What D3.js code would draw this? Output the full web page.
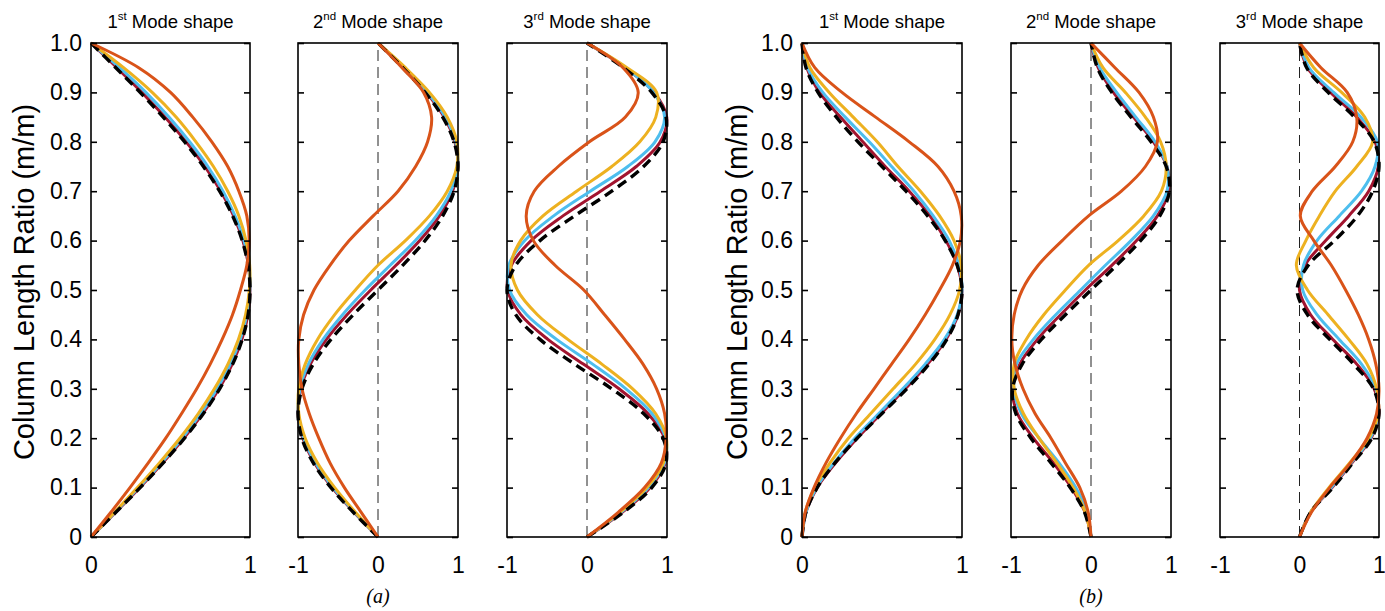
<!DOCTYPE html>
<html><head><meta charset="utf-8">
<script src="https://cdn.jsdelivr.net/npm/d3@7"></script>
<style>body{margin:0;background:#fff}svg{display:block}</style>
</head><body>
<svg id="c" width="1385" height="611"></svg>
<script>
// ---------- DATA ----------
const vLevels = [0,0.05,0.1,0.15,0.2,0.25,0.3,0.35,0.4,0.45,0.5,0.55,0.6,0.65,0.7,0.75,0.8,0.85,0.9,0.95,1];
const yTicks = [0,0.1,0.2,0.3,0.4,0.5,0.6,0.7,0.8,0.9,1];
const yTickLabels = ["0","0.1","0.2","0.3","0.4","0.5","0.6","0.7","0.8","0.9","1.0"];
const xTicks1 = [0,1];
const xTickLabels1 = ["0","1"];
const xTicks2 = [-1,0,1];
const xTickLabels2 = ["-1","0","1"];
const titleOrd = ["st","nd","rd"];
const captions = ["(a)","(b)"];
const yLabel = "Column Length Ratio (m/m)";

// (a) 1st mode
const a1_black  = [0,.156,.309,.454,.588,.707,.809,.891,.951,.988,1,.988,.951,.891,.809,.707,.588,.454,.309,.156,0];
const a1_maroon = [0,.155,.306,.45,.584,.703,.805,.888,.949,.987,1,.99,.955,.897,.816,.716,.598,.465,.32,.163,0];
const a1_blue   = [0,.152,.300,.442,.573,.691,.793,.876,.939,.98,.999,.994,.962,.906,.83,.735,.62,.49,.345,.18,0];
const a1_yellow = [0,.148,.292,.43,.559,.675,.776,.861,.927,.972,.996,.998,.975,.93,.86,.77,.66,.535,.385,.205,0];
const a1_orange = [0,.125,.245,.36,.47,.57,.665,.75,.825,.89,.94,.98,.995,.98,.93,.86,.76,.64,.5,.3,0];
// (a) 2nd mode
const a2_black  = [0,-.309,-.588,-.809,-.951,-1,-.951,-.809,-.588,-.309,0,.309,.588,.809,.951,1,.951,.809,.588,.309,0];
const a2_maroon = [0,-.30,-.573,-.793,-.939,-.999,-.966,-.845,-.645,-.387,-.09,.225,.522,.768,.932,.999,.962,.826,.603,.318,0];
const a2_blue   = [0,-.293,-.561,-.78,-.929,-.997,-.976,-.87,-.686,-.443,-.16,.152,.467,.729,.911,.996,.971,.84,.617,.326,0];
const a2_yellow = [0,-.282,-.541,-.756,-.91,-.99,-.99,-.91,-.756,-.541,-.282,0,.342,.643,.866,.985,.985,.866,.643,.342,0];
const a2_orange = [0,-.21,-.42,-.6,-.74,-.86,-.95,-.99,-.99,-.93,-.8,-.6,-.36,-.06,.25,.47,.62,.67,.57,.3,0];
// (a) 3rd mode
const a3_black  = [0,.454,.809,.988,.951,.707,.309,-.156,-.588,-.891,-1,-.891,-.588,-.156,.309,.707,.951,.988,.809,.454,0];
const a3_maroon = [0,.44,.79,.979,.969,.761,.40,-.046,-.489,-.828,-.992,-.945,-.698,-.301,.168,.616,.916,.997,.837,.476,0];
const a3_blue   = [0,.425,.769,.968,.983,.812,.486,.07,-.38,-.754,-.969,-.977,-.778,-.416,.04,.51,.85,.97,.83,.48,0];
const a3_yellow = [0,.41,.748,.954,.993,.857,.571,.185,-.24,-.62,-.87,-.95,-.83,-.55,-.13,.31,.66,.86,.87,.5,0];
const a3_orange = [0,.39,.72,.93,.99,.97,.87,.7,.47,.22,-.04,-.4,-.67,-.76,-.66,-.36,.03,.48,.64,.45,0];
// (b) 1st mode
const b1_black  = [0,.024,.095,.206,.345,.5,.655,.794,.905,.975,1,.97,.895,.785,.65,.5,.35,.215,.1,.025,0];
const b1_maroon = [0,.025,.095,.21,.345,.495,.645,.785,.9,.975,1,.97,.9,.8,.67,.52,.38,.24,.11,.03,0];
const b1_blue   = [0,.025,.09,.2,.33,.48,.63,.77,.89,.97,1,.98,.92,.82,.7,.56,.42,.27,.13,.035,0];
const b1_yellow = [0,.02,.08,.175,.29,.43,.57,.71,.83,.925,.985,.995,.95,.86,.74,.6,.47,.32,.17,.05,0];
const b1_orange = [0,.02,.075,.15,.24,.34,.45,.56,.67,.77,.86,.94,.99,.995,.95,.85,.67,.46,.25,.08,0];
// (b) 2nd mode
const b2_black  = [0,-.08,-.26,-.5,-.75,-.94,-.98,-.86,-.62,-.32,0,.32,.62,.86,.98,.94,.75,.5,.26,.08,0];
const b2_maroon = [0,-.075,-.245,-.47,-.72,-.92,-.98,-.89,-.67,-.38,-.07,.26,.57,.83,.97,.95,.78,.53,.28,.09,0];
const b2_blue   = [0,-.05,-.19,-.4,-.65,-.87,-.964,-.93,-.72,-.44,-.13,.18,.5,.78,.95,.95,.8,.56,.32,.11,0];
const b2_yellow = [0,-.072,-.224,-.428,-.65,-.845,-.96,-.96,-.81,-.59,-.32,-.03,.34,.66,.88,.94,.87,.68,.43,.15,0];
const b2_orange = [0,-.035,-.14,-.32,-.5,-.7,-.85,-.95,-.99,-.96,-.86,-.66,-.36,-.03,.38,.68,.83,.78,.6,.3,0];
// (b) 3rd mode
const b3_black  = [0,.14,.42,.67,.91,1.0,.93,.68,.38,.1,-.03,.11,.44,.73,.92,1.0,.94,.69,.36,.09,0];
const b3_maroon = [0,.14,.41,.66,.9,1.0,.94,.72,.42,.14,0,.07,.33,.62,.87,.99,.95,.72,.39,.1,0];
const b3_blue   = [0,.14,.4,.65,.89,.99,.96,.78,.5,.22,.04,.05,.22,.5,.78,.95,.98,.77,.43,.12,0];
const b3_yellow = [0,.14,.37,.63,.87,.99,.97,.85,.62,.36,.1,-.04,.08,.25,.45,.72,.92,.82,.53,.18,0];
const b3_orange = [0,.15,.38,.64,.85,.97,1.0,.96,.87,.74,.58,.4,.18,.01,.16,.45,.67,.72,.6,.27,0];

// ---------- STYLE / LAYOUT ----------
const styles = {
  maroon:{color:"#A2142F", w:3, dash:null},
  blue:{color:"#4DBEEE", w:3, dash:null},
  yellow:{color:"#EDB120", w:3, dash:null},
  black:{color:"#000000", w:3.4, dash:"10,6"},
  orange:{color:"#D95319", w:3, dash:null}
};
const drawOrder = ["maroon","blue","yellow","black","orange"];
const panels = [
  {x0:91,  x1:250, dom:[0,1],  ticks:xTicks1, tl:xTickLabels1, ylab:true,  mode:0, data:{black:a1_black,maroon:a1_maroon,blue:a1_blue,yellow:a1_yellow,orange:a1_orange}},
  {x0:298, x1:458, dom:[-1,1], ticks:xTicks2, tl:xTickLabels2, ylab:false, mode:1, data:{black:a2_black,maroon:a2_maroon,blue:a2_blue,yellow:a2_yellow,orange:a2_orange}},
  {x0:507, x1:667, dom:[-1,1], ticks:xTicks2, tl:xTickLabels2, ylab:false, mode:2, data:{black:a3_black,maroon:a3_maroon,blue:a3_blue,yellow:a3_yellow,orange:a3_orange}},
  {x0:802, x1:962, dom:[0,1],  ticks:xTicks1, tl:xTickLabels1, ylab:true,  mode:0, data:{black:b1_black,maroon:b1_maroon,blue:b1_blue,yellow:b1_yellow,orange:b1_orange}},
  {x0:1011,x1:1171,dom:[-1,1], ticks:xTicks2, tl:xTickLabels2, ylab:false, mode:1, data:{black:b2_black,maroon:b2_maroon,blue:b2_blue,yellow:b2_yellow,orange:b2_orange}},
  {x0:1220,x1:1379,dom:[-1,1], ticks:xTicks2, tl:xTickLabels2, ylab:false, mode:2, data:{black:b3_black,maroon:b3_maroon,blue:b3_blue,yellow:b3_yellow,orange:b3_orange}}
];

const svg = d3.select("#c");
const font = "Arial, 'Liberation Sans', Helvetica, sans-serif";
const y = d3.scaleLinear().domain([0,1]).range([537,43]);

panels.forEach((p) => {
  const x = d3.scaleLinear().domain(p.dom).range([p.x0, p.x1]);
  const g = svg.append("g");

  if (p.dom[0] < 0) {
    g.append("line").attr("x1", x(0)).attr("x2", x(0)).attr("y1", y(0)).attr("y2", y(1))
      .attr("stroke", "#222").attr("stroke-width", 1).attr("stroke-dasharray", "11,6");
  }

  const line = d3.line().x(d => x(d[0])).y(d => y(d[1])).curve(d3.curveCatmullRom.alpha(0.5));
  drawOrder.forEach(k => {
    const vals = p.data[k];
    const pts = vals.map((xv, i) => [xv, vLevels[i]]);
    const s = styles[k];
    g.append("path").attr("d", line(pts)).attr("fill", "none")
      .attr("stroke", s.color).attr("stroke-width", s.w)
      .attr("stroke-linejoin", "round").attr("stroke-linecap", "butt")
      .attr("stroke-dasharray", s.dash);
  });

  g.append("rect").attr("x", p.x0).attr("y", y(1)).attr("width", p.x1 - p.x0).attr("height", y(0) - y(1))
    .attr("fill", "none").attr("stroke", "#000").attr("stroke-width", 1.6);

  const la = g.append("g").attr("transform", `translate(${p.x0},0)`)
    .call(d3.axisLeft(y).tickValues(yTicks).tickSize(-6).tickPadding(9)
      .tickFormat((d, i) => p.ylab ? yTickLabels[i] : ""));
  const ra = g.append("g").attr("transform", `translate(${p.x1},0)`)
    .call(d3.axisRight(y).tickValues(yTicks).tickSize(-6).tickFormat(""));
  const ba = g.append("g").attr("transform", `translate(0,${y(0)})`)
    .call(d3.axisBottom(x).tickValues(p.ticks).tickSize(0).tickPadding(20)
      .tickFormat((d, i) => p.tl[i]));
  [la, ra, ba].forEach(a => {
    a.select(".domain").remove();
    a.selectAll(".tick line").attr("stroke", "#000").attr("stroke-width", 1.6);
    a.selectAll("text").attr("font-family", font).attr("font-size", 23).attr("fill", "#000");
  });

  const t = g.append("text").attr("x", (p.x0 + p.x1) / 2).attr("y", 28)
    .attr("text-anchor", "middle").attr("font-family", font).attr("font-size", 18.5).attr("fill", "#000");
  t.append("tspan").text(String(p.mode + 1));
  t.append("tspan").attr("font-size", 11.5).attr("dy", -8).text(titleOrd[p.mode]);
  t.append("tspan").attr("dy", 8).text(" Mode shape");
});

[24, 737].forEach(xx => {
  svg.append("text").attr("transform", `translate(${xx},282) rotate(-90)`)
    .attr("text-anchor", "middle").attr("font-family", font).attr("font-size", 29).attr("fill", "#000")
    .attr("dy", "0.35em").text(yLabel);
});
[[378, captions[0]], [1091, captions[1]]].forEach(([xx, c]) => {
  svg.append("text").attr("x", xx).attr("y", 603).attr("text-anchor", "middle")
    .attr("font-family", "'Liberation Serif','Times New Roman',serif").attr("font-style", "italic")
    .attr("font-size", 20).attr("fill", "#000").text(c);
});
</script>
</body></html>
